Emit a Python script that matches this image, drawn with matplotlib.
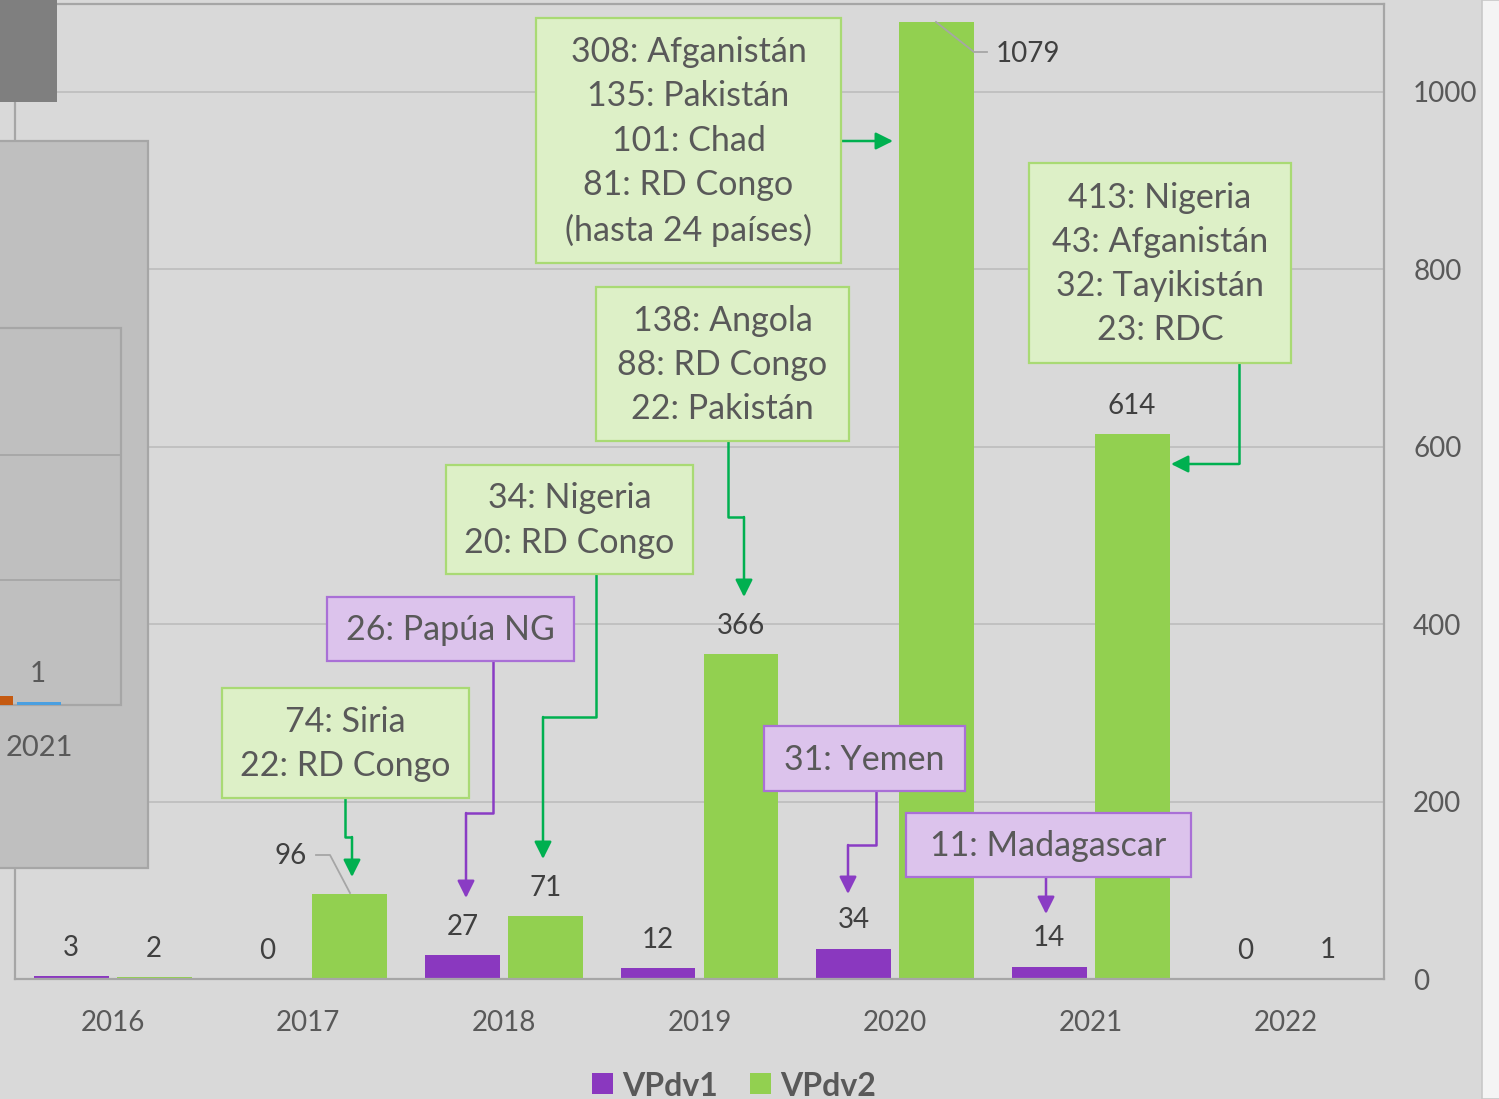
import matplotlib.pyplot as plt
from matplotlib.patches import Rectangle
import numpy as np

plt.rcParams['font.family'] = ['Lato', 'DejaVu Sans']

# chart values
years = ['2016', '2017', '2018', '2019', '2020', '2021', '2022']
vpdv1 = [3, 0, 27, 12, 34, 14, 0]
vpdv2 = [2, 96, 71, 366, 1079, 614, 1]
series_names = ['VPdv1', 'VPdv2']
yticks = [0, 200, 400, 600, 800, 1000]

# callout texts
green_notes = [
    ['308: Afganistán', '135: Pakistán', '101: Chad', '81: RD Congo', '(hasta 24 países)'],
    ['138: Angola', '88: RD Congo', '22: Pakistán'],
    ['34: Nigeria', '20: RD Congo'],
    ['74: Siria', '22: RD Congo'],
    ['413: Nigeria', '43: Afganistán', '32: Tayikistán', '23: RDC'],
]
purple_notes = [['26: Papúa NG'], ['31: Yemen'], ['11: Madagascar']]

purple = '#8a38bf'
green = '#92d050'
arrow_green = '#00b050'
arrow_purple = '#8a3cc4'
bg = '#d9d9d9'

fig = plt.figure(figsize=(14.99, 10.99), dpi=100, facecolor=bg)
W, H = 1499, 1099
ax = fig.add_axes([15 / W, 1 - 979 / H, (1384 - 15) / W, (979 - 4) / H])
ax.set_facecolor(bg)

x = np.arange(len(years))
bw = 0.383
off = 0.212
b1 = ax.bar(x - off, vpdv1, width=bw, color=purple, label=series_names[0], zorder=2)
b2 = ax.bar(x + off, vpdv2, width=bw, color=green, label=series_names[1], zorder=2)

ax.set_xlim(-0.5, len(years) - 0.5)
ax.set_ylim(0, 1099)
ax.set_xticks(x, years)
ax.set_yticks(yticks)
ax.yaxis.tick_right()
ax.tick_params(axis='y', length=0, pad=21, labelsize=20, labelcolor='#595959')
ax.tick_params(axis='x', length=0, pad=22, labelsize=20, labelcolor='#595959')
for lab in ax.get_yticklabels():
    lab.set_horizontalalignment('left')
ax.grid(axis='y', color='#bfbfbf', lw=1.3)
ax.set_axisbelow(True)
for s in ax.spines.values():
    s.set_color('#a6a6a6')
    s.set_linewidth(1.6)

# data labels
special = {(1, 1): (-42.5, 27.4), (1, 4): (65.5, -23.5)}
for si, (bars, vals) in enumerate([(b1, vpdv1), (b2, vpdv2)]):
    for i, (bar, v) in enumerate(zip(bars, vals)):
        dx, dy = special.get((si, i), (0, 20.5))
        ax.annotate(str(v), xy=(bar.get_x() + bar.get_width() / 2, v),
                    xytext=(dx, dy), textcoords='offset points',
                    ha='center', va='center', fontsize=20, color='#404040')

# overlay in pixel coordinates
ov = fig.add_axes([0, 0, 1, 1])
ov.set_xlim(0, W)
ov.set_ylim(H, 0)
ov.axis('off')
ov.patch.set_alpha(0)

# leader lines for the offset labels
ov.plot([350, 330, 316], [893, 855, 855], color='#a6a6a6', lw=1.3)
ov.plot([936, 974, 987], [22, 52, 52], color='#a6a6a6', lw=1.3)

# partial overlapping chart on the left
ov.add_patch(Rectangle((0, 0), 57, 102, color='#7f7f7f', lw=0))
ov.add_patch(Rectangle((-5, 141), 153, 727, facecolor='#bfbfbf', edgecolor='#a6a6a6', lw=1.6))
ov.add_patch(Rectangle((-5, 328), 126, 377, facecolor='none', edgecolor='#a6a6a6', lw=1.6))
ov.plot([0, 121], [455, 455], color='#a6a6a6', lw=1.3)
ov.plot([0, 121], [580, 580], color='#a6a6a6', lw=1.3)
ov.add_patch(Rectangle((0, 696), 13, 9, color='#c55a11', lw=0))
ov.add_patch(Rectangle((17, 702), 44, 3, color='#4a9fe0', lw=0))
ov.text(38, 674, '1', ha='center', va='center', fontsize=20, color='#595959')
ov.text(39, 748, '2021', ha='center', va='center', fontsize=21, color='#595959')

# right strip
ov.add_patch(Rectangle((1482, 0), 20, H, facecolor='#f4f4f4', edgecolor='#c8c8c8', lw=1.2))

# callout boxes
green_boxes = [(536, 18, 841, 263), (596, 287, 849, 441), (446, 465, 693, 574),
               (222, 688, 469, 798), (1029, 163, 1291, 363)]
purple_boxes = [(327, 597, 574, 661), (764, 726, 965, 791), (906, 813, 1191, 877)]
green_paths = [[(841, 141), (893, 141)],
               [(728, 441), (728, 517), (744, 517), (744, 597)],
               [(596, 574), (596, 717), (543, 717), (543, 859)],
               [(345, 798), (345, 837), (352, 837), (352, 877)],
               [(1239, 363), (1239, 464), (1171, 464)]]
purple_paths = [[(493, 661), (493, 813), (466, 813), (466, 898)],
                [(876, 791), (876, 845), (848, 845), (848, 894)],
                [(1046, 877), (1046, 914)]]


def callout(box, lines, path, face, edge, acol):
    x0, y0, x1, y1 = box
    ov.add_patch(Rectangle((x0, y0), x1 - x0, y1 - y0, facecolor=face,
                           edgecolor=edge, lw=1.6, zorder=3))
    ov.text((x0 + x1) / 2, (y0 + y1) / 2 + 1, '\n'.join(lines), ha='center', va='center',
            multialignment='center', linespacing=1.47, fontsize=24.5, color='#595959', zorder=4)
    px = [p[0] for p in path[:-1]]
    py = [p[1] for p in path[:-1]]
    ov.plot(px, py, color=acol, lw=1.8, zorder=2, solid_capstyle='butt')
    ov.annotate('', xy=path[-1], xytext=path[-2],
                arrowprops=dict(arrowstyle='-|>', color=acol, lw=1.8,
                                mutation_scale=26, shrinkA=0, shrinkB=0), zorder=2)


for box, lines, path in zip(green_boxes, green_notes, green_paths):
    callout(box, lines, path, '#ddf0c7', '#a9da74', arrow_green)
for box, lines, path in zip(purple_boxes, purple_notes, purple_paths):
    callout(box, lines, path, '#dcc3ec', '#a970d6', arrow_purple)

# legend
for lx, col, name in [(592, purple, series_names[0]), (750, green, series_names[1])]:
    ov.add_patch(Rectangle((lx, 1073), 21, 21, color=col, lw=0))
    ov.text(lx + 30, 1096, name, ha='left', va='baseline', fontsize=23,
            fontweight='bold', color='#595959')

fig.savefig('out.png', dpi=100, facecolor=bg)
